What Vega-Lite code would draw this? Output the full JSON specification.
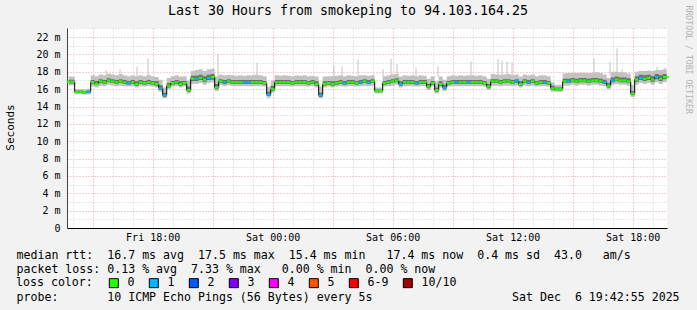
{
"$schema": "https://vega.github.io/schema/vega-lite/v6.json",
"width": 600, "height": 200,
"autosize": {"type": "none"},
"padding": {"left": 67, "top": 28, "right": 30, "bottom": 82},
"background": "#f2f2f2",
"config": {"view": {"fill": "white", "stroke": null}, "font": "DejaVu Sans Mono"},
"title": {"text": "Last 30 Hours from smokeping to 94.103.164.25", "font": "DejaVu Sans Mono", "fontSize": 13.3, "fontWeight": "normal", "color": "#000", "anchor": "middle", "dx": -19, "dy": 17, "offset": 5},
"datasets": {
"m": [
{"t":"2025-12-05T13:48","m":16.85,"a":16.4,"b":16.65,"c":17.1,"d":17.5,"l":"0"},
{"t":"2025-12-05T14:00","m":16.85,"a":16.45,"b":16.65,"c":17.1,"d":17.45,"l":"0"},
{"t":"2025-12-05T14:12","m":15.7,"a":15.4,"b":15.55,"c":15.85,"d":16.0,"l":"0"},
{"t":"2025-12-05T14:24","m":15.7,"a":15.45,"b":15.55,"c":15.85,"d":16.0,"l":"0"},
{"t":"2025-12-05T14:36","m":15.65,"a":15.4,"b":15.5,"c":15.8,"d":16.0,"l":"0"},
{"t":"2025-12-05T14:48","m":15.7,"a":15.4,"b":15.55,"c":15.85,"d":16.05,"l":"1"},
{"t":"2025-12-05T15:00","m":16.8,"a":16.3,"b":16.6,"c":17.05,"d":17.6,"l":"0"},
{"t":"2025-12-05T15:12","m":16.6,"a":16.2,"b":16.45,"c":16.95,"d":17.5,"l":"0"},
{"t":"2025-12-05T15:24","m":16.9,"a":16.4,"b":16.7,"c":17.15,"d":17.7,"l":"0"},
{"t":"2025-12-05T15:36","m":16.8,"a":16.35,"b":16.6,"c":17.05,"d":17.6,"l":"0"},
{"t":"2025-12-05T15:48","m":17.0,"a":16.5,"b":16.8,"c":17.25,"d":17.8,"l":"0"},
{"t":"2025-12-05T16:00","m":16.9,"a":16.4,"b":16.7,"c":17.15,"d":17.7,"l":"0"},
{"t":"2025-12-05T16:12","m":16.8,"a":16.35,"b":16.6,"c":17.05,"d":17.6,"l":"0"},
{"t":"2025-12-05T16:24","m":16.9,"a":16.4,"b":16.7,"c":17.15,"d":17.75,"l":"0"},
{"t":"2025-12-05T16:36","m":16.8,"a":16.35,"b":16.6,"c":17.05,"d":17.6,"l":"0"},
{"t":"2025-12-05T16:48","m":16.7,"a":16.3,"b":16.5,"c":16.95,"d":17.5,"l":"1"},
{"t":"2025-12-05T17:00","m":16.8,"a":16.35,"b":16.6,"c":17.05,"d":17.6,"l":"0"},
{"t":"2025-12-05T17:12","m":16.6,"a":16.2,"b":16.4,"c":16.9,"d":17.5,"l":"0"},
{"t":"2025-12-05T17:24","m":16.8,"a":16.35,"b":16.6,"c":17.05,"d":17.6,"l":"0"},
{"t":"2025-12-05T17:36","m":16.7,"a":16.3,"b":16.5,"c":16.95,"d":17.5,"l":"0"},
{"t":"2025-12-05T17:48","m":16.8,"a":16.35,"b":16.6,"c":17.05,"d":17.65,"l":"0"},
{"t":"2025-12-05T18:00","m":16.7,"a":16.3,"b":16.5,"c":16.95,"d":17.5,"l":"0"},
{"t":"2025-12-05T18:12","m":16.6,"a":16.2,"b":16.4,"c":16.9,"d":17.4,"l":"0"},
{"t":"2025-12-05T18:24","m":16.1,"a":15.7,"b":15.9,"c":16.45,"d":17.1,"l":"1"},
{"t":"2025-12-05T18:36","m":15.3,"a":14.95,"b":15.1,"c":15.6,"d":16.2,"l":"1"},
{"t":"2025-12-05T18:48","m":16.4,"a":16.0,"b":16.2,"c":16.7,"d":17.3,"l":"0"},
{"t":"2025-12-05T19:00","m":16.7,"a":16.3,"b":16.5,"c":16.95,"d":17.5,"l":"0"},
{"t":"2025-12-05T19:12","m":16.8,"a":16.35,"b":16.6,"c":17.05,"d":17.6,"l":"0"},
{"t":"2025-12-05T19:24","m":16.6,"a":16.2,"b":16.4,"c":16.9,"d":17.45,"l":"0"},
{"t":"2025-12-05T19:36","m":16.7,"a":16.3,"b":16.5,"c":16.95,"d":17.5,"l":"0"},
{"t":"2025-12-05T19:48","m":15.9,"a":15.5,"b":15.7,"c":16.3,"d":17.0,"l":"0"},
{"t":"2025-12-05T20:00","m":17.2,"a":16.6,"b":16.95,"c":17.55,"d":18.1,"l":"0"},
{"t":"2025-12-05T20:12","m":17.2,"a":16.6,"b":16.95,"c":17.55,"d":18.2,"l":"1"},
{"t":"2025-12-05T20:24","m":17.3,"a":16.7,"b":17.05,"c":17.65,"d":18.3,"l":"0"},
{"t":"2025-12-05T20:36","m":17.1,"a":16.5,"b":16.85,"c":17.5,"d":18.1,"l":"0"},
{"t":"2025-12-05T20:48","m":17.3,"a":16.7,"b":17.05,"c":17.65,"d":18.3,"l":"1"},
{"t":"2025-12-05T21:00","m":17.4,"a":16.8,"b":17.1,"c":17.75,"d":18.35,"l":"0"},
{"t":"2025-12-05T21:12","m":16.2,"a":15.8,"b":16.0,"c":16.6,"d":17.5,"l":"0"},
{"t":"2025-12-05T21:24","m":16.9,"a":16.45,"b":16.7,"c":17.15,"d":17.7,"l":"0"},
{"t":"2025-12-05T21:36","m":16.8,"a":16.35,"b":16.6,"c":17.05,"d":17.6,"l":"1"},
{"t":"2025-12-05T21:48","m":16.9,"a":16.45,"b":16.7,"c":17.15,"d":17.65,"l":"0"},
{"t":"2025-12-05T22:00","m":16.8,"a":16.35,"b":16.6,"c":17.05,"d":17.6,"l":"0"},
{"t":"2025-12-05T22:12","m":16.8,"a":16.35,"b":16.6,"c":17.05,"d":17.55,"l":"0"},
{"t":"2025-12-05T22:24","m":16.8,"a":16.35,"b":16.6,"c":17.05,"d":17.6,"l":"0"},
{"t":"2025-12-05T22:36","m":16.8,"a":16.35,"b":16.6,"c":17.05,"d":17.55,"l":"1"},
{"t":"2025-12-05T22:48","m":16.8,"a":16.35,"b":16.6,"c":17.05,"d":17.6,"l":"1"},
{"t":"2025-12-05T23:00","m":16.8,"a":16.35,"b":16.6,"c":17.05,"d":17.6,"l":"0"},
{"t":"2025-12-05T23:12","m":16.8,"a":16.35,"b":16.6,"c":17.05,"d":17.65,"l":"0"},
{"t":"2025-12-05T23:24","m":16.8,"a":16.35,"b":16.6,"c":17.05,"d":17.6,"l":"0"},
{"t":"2025-12-05T23:36","m":16.7,"a":16.3,"b":16.5,"c":16.95,"d":17.5,"l":"0"},
{"t":"2025-12-05T23:48","m":15.4,"a":15.0,"b":15.2,"c":15.7,"d":16.3,"l":"1"},
{"t":"2025-12-06T00:00","m":16.0,"a":15.6,"b":15.8,"c":16.4,"d":17.0,"l":"0"},
{"t":"2025-12-06T00:12","m":16.8,"a":16.35,"b":16.6,"c":17.05,"d":17.6,"l":"0"},
{"t":"2025-12-06T00:24","m":16.8,"a":16.35,"b":16.6,"c":17.05,"d":17.55,"l":"0"},
{"t":"2025-12-06T00:36","m":16.8,"a":16.35,"b":16.6,"c":17.05,"d":17.6,"l":"0"},
{"t":"2025-12-06T00:48","m":16.8,"a":16.35,"b":16.6,"c":17.05,"d":17.55,"l":"0"},
{"t":"2025-12-06T01:00","m":16.7,"a":16.3,"b":16.5,"c":16.95,"d":17.5,"l":"0"},
{"t":"2025-12-06T01:12","m":16.8,"a":16.35,"b":16.6,"c":17.05,"d":17.6,"l":"0"},
{"t":"2025-12-06T01:24","m":16.8,"a":16.35,"b":16.6,"c":17.05,"d":17.55,"l":"0"},
{"t":"2025-12-06T01:36","m":16.8,"a":16.35,"b":16.6,"c":17.05,"d":17.6,"l":"0"},
{"t":"2025-12-06T01:48","m":16.7,"a":16.3,"b":16.5,"c":16.95,"d":17.5,"l":"0"},
{"t":"2025-12-06T02:00","m":16.8,"a":16.35,"b":16.6,"c":17.05,"d":17.55,"l":"0"},
{"t":"2025-12-06T02:12","m":16.6,"a":16.2,"b":16.4,"c":16.9,"d":17.45,"l":"0"},
{"t":"2025-12-06T02:24","m":15.3,"a":14.95,"b":15.1,"c":15.6,"d":16.3,"l":"1"},
{"t":"2025-12-06T02:36","m":16.6,"a":16.2,"b":16.4,"c":16.9,"d":17.45,"l":"0"},
{"t":"2025-12-06T02:48","m":16.7,"a":16.3,"b":16.5,"c":16.95,"d":17.5,"l":"0"},
{"t":"2025-12-06T03:00","m":16.6,"a":16.2,"b":16.4,"c":16.9,"d":17.5,"l":"0"},
{"t":"2025-12-06T03:12","m":16.7,"a":16.3,"b":16.5,"c":16.95,"d":17.55,"l":"0"},
{"t":"2025-12-06T03:24","m":16.8,"a":16.35,"b":16.6,"c":17.05,"d":17.6,"l":"0"},
{"t":"2025-12-06T03:36","m":16.7,"a":16.3,"b":16.5,"c":16.95,"d":17.5,"l":"1"},
{"t":"2025-12-06T03:48","m":16.8,"a":16.35,"b":16.6,"c":17.05,"d":17.6,"l":"0"},
{"t":"2025-12-06T04:00","m":16.8,"a":16.35,"b":16.6,"c":17.05,"d":17.55,"l":"0"},
{"t":"2025-12-06T04:12","m":16.7,"a":16.3,"b":16.5,"c":16.95,"d":17.5,"l":"0"},
{"t":"2025-12-06T04:24","m":16.8,"a":16.35,"b":16.6,"c":17.05,"d":17.6,"l":"1"},
{"t":"2025-12-06T04:36","m":16.9,"a":16.4,"b":16.7,"c":17.15,"d":17.6,"l":"0"},
{"t":"2025-12-06T04:48","m":16.8,"a":16.35,"b":16.6,"c":17.05,"d":17.55,"l":"1"},
{"t":"2025-12-06T05:00","m":16.9,"a":16.4,"b":16.7,"c":17.15,"d":17.6,"l":"0"},
{"t":"2025-12-06T05:12","m":15.8,"a":15.5,"b":15.65,"c":15.95,"d":16.2,"l":"0"},
{"t":"2025-12-06T05:24","m":15.8,"a":15.5,"b":15.65,"c":15.95,"d":16.2,"l":"0"},
{"t":"2025-12-06T05:36","m":16.7,"a":16.3,"b":16.5,"c":16.95,"d":17.5,"l":"0"},
{"t":"2025-12-06T05:48","m":16.8,"a":16.35,"b":16.6,"c":17.05,"d":17.6,"l":"0"},
{"t":"2025-12-06T06:00","m":16.9,"a":16.4,"b":16.7,"c":17.15,"d":17.7,"l":"0"},
{"t":"2025-12-06T06:12","m":17.0,"a":16.5,"b":16.8,"c":17.25,"d":17.75,"l":"0"},
{"t":"2025-12-06T06:24","m":16.6,"a":16.2,"b":16.4,"c":16.9,"d":17.45,"l":"1"},
{"t":"2025-12-06T06:36","m":16.8,"a":16.35,"b":16.6,"c":17.05,"d":17.6,"l":"0"},
{"t":"2025-12-06T06:48","m":16.8,"a":16.35,"b":16.6,"c":17.05,"d":17.55,"l":"0"},
{"t":"2025-12-06T07:00","m":16.8,"a":16.35,"b":16.6,"c":17.05,"d":17.6,"l":"0"},
{"t":"2025-12-06T07:12","m":16.7,"a":16.3,"b":16.5,"c":16.95,"d":17.5,"l":"1"},
{"t":"2025-12-06T07:24","m":16.8,"a":16.35,"b":16.6,"c":17.05,"d":17.6,"l":"0"},
{"t":"2025-12-06T07:36","m":16.8,"a":16.35,"b":16.6,"c":17.05,"d":17.55,"l":"0"},
{"t":"2025-12-06T07:48","m":16.3,"a":15.9,"b":16.1,"c":16.6,"d":17.2,"l":"0"},
{"t":"2025-12-06T08:00","m":16.7,"a":16.3,"b":16.5,"c":16.95,"d":17.5,"l":"0"},
{"t":"2025-12-06T08:12","m":15.9,"a":15.5,"b":15.7,"c":16.2,"d":16.9,"l":"0"},
{"t":"2025-12-06T08:24","m":16.6,"a":16.2,"b":16.4,"c":16.9,"d":17.45,"l":"0"},
{"t":"2025-12-06T08:36","m":16.2,"a":15.8,"b":16.0,"c":16.5,"d":17.1,"l":"1"},
{"t":"2025-12-06T08:48","m":16.7,"a":16.3,"b":16.5,"c":16.95,"d":17.5,"l":"0"},
{"t":"2025-12-06T09:00","m":16.8,"a":16.35,"b":16.6,"c":17.05,"d":17.6,"l":"0"},
{"t":"2025-12-06T09:12","m":16.8,"a":16.35,"b":16.6,"c":17.05,"d":17.55,"l":"1"},
{"t":"2025-12-06T09:24","m":16.8,"a":16.35,"b":16.6,"c":17.05,"d":17.6,"l":"0"},
{"t":"2025-12-06T09:36","m":16.8,"a":16.35,"b":16.6,"c":17.05,"d":17.55,"l":"0"},
{"t":"2025-12-06T09:48","m":16.8,"a":16.35,"b":16.6,"c":17.05,"d":17.6,"l":"1"},
{"t":"2025-12-06T10:00","m":16.8,"a":16.35,"b":16.6,"c":17.05,"d":17.6,"l":"0"},
{"t":"2025-12-06T10:12","m":16.8,"a":16.35,"b":16.6,"c":17.05,"d":17.55,"l":"0"},
{"t":"2025-12-06T10:24","m":16.8,"a":16.35,"b":16.6,"c":17.05,"d":17.6,"l":"0"},
{"t":"2025-12-06T10:36","m":16.7,"a":16.3,"b":16.5,"c":16.95,"d":17.5,"l":"0"},
{"t":"2025-12-06T10:48","m":16.3,"a":15.9,"b":16.1,"c":16.6,"d":17.2,"l":"0"},
{"t":"2025-12-06T11:00","m":16.9,"a":16.4,"b":16.7,"c":17.15,"d":17.75,"l":"0"},
{"t":"2025-12-06T11:12","m":16.9,"a":16.4,"b":16.7,"c":17.15,"d":17.7,"l":"0"},
{"t":"2025-12-06T11:24","m":16.8,"a":16.35,"b":16.6,"c":17.05,"d":17.65,"l":"0"},
{"t":"2025-12-06T11:36","m":16.9,"a":16.4,"b":16.7,"c":17.15,"d":17.7,"l":"0"},
{"t":"2025-12-06T11:48","m":16.9,"a":16.4,"b":16.7,"c":17.15,"d":17.75,"l":"0"},
{"t":"2025-12-06T12:00","m":16.8,"a":16.35,"b":16.6,"c":17.05,"d":17.6,"l":"0"},
{"t":"2025-12-06T12:12","m":16.9,"a":16.4,"b":16.7,"c":17.15,"d":17.7,"l":"1"},
{"t":"2025-12-06T12:24","m":16.6,"a":16.2,"b":16.4,"c":16.9,"d":17.45,"l":"0"},
{"t":"2025-12-06T12:36","m":16.9,"a":16.4,"b":16.7,"c":17.15,"d":17.7,"l":"0"},
{"t":"2025-12-06T12:48","m":16.8,"a":16.35,"b":16.6,"c":17.05,"d":17.6,"l":"1"},
{"t":"2025-12-06T13:00","m":16.9,"a":16.4,"b":16.7,"c":17.15,"d":17.7,"l":"0"},
{"t":"2025-12-06T13:12","m":16.7,"a":16.3,"b":16.5,"c":16.95,"d":17.5,"l":"0"},
{"t":"2025-12-06T13:24","m":16.8,"a":16.35,"b":16.6,"c":17.05,"d":17.6,"l":"0"},
{"t":"2025-12-06T13:36","m":16.8,"a":16.35,"b":16.6,"c":17.05,"d":17.6,"l":"1"},
{"t":"2025-12-06T13:48","m":16.7,"a":16.3,"b":16.5,"c":16.95,"d":17.5,"l":"0"},
{"t":"2025-12-06T14:00","m":16.1,"a":15.7,"b":15.9,"c":16.4,"d":16.8,"l":"0"},
{"t":"2025-12-06T14:12","m":16.0,"a":15.7,"b":15.85,"c":16.2,"d":16.5,"l":"0"},
{"t":"2025-12-06T14:24","m":16.0,"a":15.7,"b":15.85,"c":16.2,"d":16.5,"l":"0"},
{"t":"2025-12-06T14:36","m":16.9,"a":16.4,"b":16.7,"c":17.2,"d":17.8,"l":"0"},
{"t":"2025-12-06T14:48","m":16.9,"a":16.4,"b":16.7,"c":17.2,"d":17.85,"l":"1"},
{"t":"2025-12-06T15:00","m":17.0,"a":16.5,"b":16.8,"c":17.3,"d":17.9,"l":"0"},
{"t":"2025-12-06T15:12","m":16.9,"a":16.4,"b":16.7,"c":17.2,"d":17.85,"l":"0"},
{"t":"2025-12-06T15:24","m":17.0,"a":16.5,"b":16.8,"c":17.3,"d":17.9,"l":"0"},
{"t":"2025-12-06T15:36","m":17.0,"a":16.5,"b":16.8,"c":17.3,"d":17.9,"l":"0"},
{"t":"2025-12-06T15:48","m":16.9,"a":16.4,"b":16.7,"c":17.2,"d":17.85,"l":"0"},
{"t":"2025-12-06T16:00","m":17.0,"a":16.5,"b":16.8,"c":17.3,"d":17.9,"l":"0"},
{"t":"2025-12-06T16:12","m":17.0,"a":16.5,"b":16.8,"c":17.3,"d":17.95,"l":"0"},
{"t":"2025-12-06T16:24","m":16.9,"a":16.4,"b":16.7,"c":17.2,"d":17.85,"l":"0"},
{"t":"2025-12-06T16:36","m":16.8,"a":16.35,"b":16.6,"c":17.1,"d":17.7,"l":"1"},
{"t":"2025-12-06T16:48","m":16.4,"a":16.0,"b":16.2,"c":16.7,"d":17.3,"l":"0"},
{"t":"2025-12-06T17:00","m":17.0,"a":16.5,"b":16.8,"c":17.35,"d":18.0,"l":"1"},
{"t":"2025-12-06T17:12","m":17.1,"a":16.6,"b":16.9,"c":17.45,"d":18.0,"l":"0"},
{"t":"2025-12-06T17:24","m":17.0,"a":16.5,"b":16.8,"c":17.35,"d":17.95,"l":"0"},
{"t":"2025-12-06T17:36","m":17.0,"a":16.5,"b":16.8,"c":17.35,"d":17.95,"l":"0"},
{"t":"2025-12-06T17:48","m":16.9,"a":16.4,"b":16.7,"c":17.25,"d":17.8,"l":"0"},
{"t":"2025-12-06T18:00","m":15.5,"a":15.1,"b":15.3,"c":15.8,"d":16.5,"l":"0"},
{"t":"2025-12-06T18:12","m":17.1,"a":16.5,"b":16.85,"c":17.5,"d":18.0,"l":"0"},
{"t":"2025-12-06T18:24","m":17.3,"a":16.7,"b":17.05,"c":17.65,"d":18.1,"l":"1"},
{"t":"2025-12-06T18:36","m":17.2,"a":16.6,"b":16.95,"c":17.6,"d":18.1,"l":"0"},
{"t":"2025-12-06T18:48","m":17.3,"a":16.7,"b":17.05,"c":17.65,"d":18.15,"l":"0"},
{"t":"2025-12-06T19:00","m":17.1,"a":16.5,"b":16.85,"c":17.5,"d":18.1,"l":"0"},
{"t":"2025-12-06T19:12","m":17.4,"a":16.8,"b":17.15,"c":17.75,"d":18.2,"l":"1"},
{"t":"2025-12-06T19:24","m":17.2,"a":16.6,"b":16.95,"c":17.6,"d":18.2,"l":"0"},
{"t":"2025-12-06T19:36","m":17.4,"a":16.8,"b":17.15,"c":17.75,"d":18.3,"l":"0"},
{"t":"2025-12-06T19:42","m":17.4,"a":16.8,"b":17.15,"c":17.75,"d":18.3,"l":"0"}
],
"s": [
{"t":"2025-12-05T15:40","b":17.4,"top":18.2},
{"t":"2025-12-05T16:22","b":17.4,"top":18.3},
{"t":"2025-12-05T17:13","b":17.4,"top":18.6},
{"t":"2025-12-05T17:46","b":17.4,"top":19.55},
{"t":"2025-12-05T21:16","b":17.5,"top":20.0},
{"t":"2025-12-05T23:13","b":17.4,"top":19.0},
{"t":"2025-12-06T03:04","b":17.4,"top":18.7},
{"t":"2025-12-06T03:28","b":17.4,"top":18.6},
{"t":"2025-12-06T04:16","b":17.4,"top":19.4},
{"t":"2025-12-06T05:31","b":17.4,"top":18.3},
{"t":"2025-12-06T05:55","b":17.4,"top":19.5},
{"t":"2025-12-06T06:13","b":17.4,"top":18.9},
{"t":"2025-12-06T07:10","b":17.4,"top":18.5},
{"t":"2025-12-06T08:16","b":17.4,"top":18.6},
{"t":"2025-12-06T09:55","b":17.4,"top":19.2},
{"t":"2025-12-06T11:16","b":17.5,"top":19.5},
{"t":"2025-12-06T11:28","b":17.5,"top":19.3},
{"t":"2025-12-06T11:43","b":17.5,"top":19.2},
{"t":"2025-12-06T11:58","b":17.5,"top":19.1},
{"t":"2025-12-06T16:04","b":17.6,"top":19.5},
{"t":"2025-12-06T16:52","b":17.6,"top":19.2},
{"t":"2025-12-06T17:13","b":17.6,"top":20.7},
{"t":"2025-12-06T17:28","b":17.6,"top":18.3},
{"t":"2025-12-06T19:13","b":17.8,"top":18.6},
{"t":"2025-12-06T19:37","b":17.8,"top":18.5}
]
},
"data": {"name": "m"},
"encoding": {
"x": {"field": "t", "type": "temporal",
 "scale": {"domain": [{"year":2025,"month":12,"date":5,"hours":13,"minutes":42,"seconds":55},{"year":2025,"month":12,"date":6,"hours":19,"minutes":42,"seconds":55}]},
 "axis": {"values": [
   {"year":2025,"month":12,"date":5,"hours":14},{"year":2025,"month":12,"date":5,"hours":15},{"year":2025,"month":12,"date":5,"hours":16},{"year":2025,"month":12,"date":5,"hours":17},{"year":2025,"month":12,"date":5,"hours":18},{"year":2025,"month":12,"date":5,"hours":19},{"year":2025,"month":12,"date":5,"hours":20},{"year":2025,"month":12,"date":5,"hours":21},{"year":2025,"month":12,"date":5,"hours":22},{"year":2025,"month":12,"date":5,"hours":23},
   {"year":2025,"month":12,"date":6,"hours":0},{"year":2025,"month":12,"date":6,"hours":1},{"year":2025,"month":12,"date":6,"hours":2},{"year":2025,"month":12,"date":6,"hours":3},{"year":2025,"month":12,"date":6,"hours":4},{"year":2025,"month":12,"date":6,"hours":5},{"year":2025,"month":12,"date":6,"hours":6},{"year":2025,"month":12,"date":6,"hours":7},{"year":2025,"month":12,"date":6,"hours":8},{"year":2025,"month":12,"date":6,"hours":9},{"year":2025,"month":12,"date":6,"hours":10},{"year":2025,"month":12,"date":6,"hours":11},{"year":2025,"month":12,"date":6,"hours":12},{"year":2025,"month":12,"date":6,"hours":13},{"year":2025,"month":12,"date":6,"hours":14},{"year":2025,"month":12,"date":6,"hours":15},{"year":2025,"month":12,"date":6,"hours":16},{"year":2025,"month":12,"date":6,"hours":17},{"year":2025,"month":12,"date":6,"hours":18},{"year":2025,"month":12,"date":6,"hours":19}],
  "labelExpr": "hours(datum.value) % 6 == 0 ? timeFormat(datum.value, '%a %H:%M') : ''",
  "labelFont": "DejaVu Sans Mono", "labelFontSize": 10, "labelColor": "#000", "labelPadding": 4,
  "labelOverlap": false, "labelFlush": false, "labelBound": false,
  "ticks": false, "tickSize": 0, "domainColor": "#000", "domainWidth": 1,
  "gridColor": {"condition": {"test": "hours(datum.value) % 3 == 0", "value": "#eba0a0"}, "value": "#cfcfcf"},
  "gridDash": [1, 2], "gridOpacity": 1,
  "title": ["median rtt:\u00a0\u00a016.7 ms avg\u00a0\u00a017.5 ms max\u00a0\u00a015.4 ms min\u00a0\u00a0\u00a017.4 ms now\u00a0\u00a00.4 ms sd\u00a0\u00a043.0\u00a0\u00a0\u00a0am/s",
            "packet loss:\u00a00.13 % avg\u00a0\u00a07.33 % max\u00a0\u00a0\u00a00.00 % min\u00a0\u00a00.00 % now",
            "\u200b",
            "probe:\u00a0\u00a0\u00a0\u00a0\u00a0\u00a0\u00a010 ICMP Echo Pings (56 Bytes) every 5s\u00a0\u00a0\u00a0\u00a0\u00a0\u00a0\u00a0\u00a0\u00a0\u00a0\u00a0\u00a0\u00a0\u00a0\u00a0\u00a0\u00a0\u00a0\u00a0\u00a0Sat Dec\u00a0\u00a06 19:42:55 2025"],
  "titleX": -51, "titleY": 30, "titleAlign": "left", "titleAnchor": "start", "titleBaseline": "alphabetic",
  "titleFont": "DejaVu Sans Mono", "titleFontSize": 11.6, "titleFontWeight": "normal", "titleColor": "#000", "titleLineHeight": 14}}
},
"layer": [
 {"mark": {"type": "area", "interpolate": "step", "color": "#c2c2c2"},
  "encoding": {"y": {"field": "a", "type": "quantitative", "scale": {"domain": [0, 23.05], "nice": false, "zero": false},
    "axis": {"orient": "left", "values": [0,1,2,3,4,5,6,7,8,9,10,11,12,13,14,15,16,17,18,19,20,21,22,23],
     "labelExpr": "datum.value % 2 == 0 ? (datum.value == 0 ? '0' : datum.value + ' m') : ''",
     "labelFont": "DejaVu Sans Mono", "labelFontSize": 10, "labelColor": "#000", "labelPadding": 7,
     "ticks": false, "tickSize": 0, "domainColor": "#404040",
     "gridColor": {"condition": {"test": "datum.value % 2 == 0", "value": "#eba0a0"}, "value": "#cfcfcf"},
     "gridDash": [1, 2], "gridOpacity": 1,
     "title": "Seconds", "titleFont": "DejaVu Sans Mono", "titleFontSize": 11, "titleFontWeight": "normal", "titleColor": "#000",
     "titleAngle": -90, "titleX": -57, "titleY": 99, "titleAlign": "center", "titleBaseline": "middle"}},
   "y2": {"field": "d"}}},
 {"mark": {"type": "area", "interpolate": "step", "color": "#6e6e6e"},
  "encoding": {"y": {"field": "b", "type": "quantitative", "axis": null}, "y2": {"field": "c"}}},
 {"data": {"name": "s"},
  "mark": {"type": "rule", "color": "#c4c4c4", "strokeWidth": 1},
  "encoding": {"y": {"field": "b", "type": "quantitative",
    "axis": {"orient": "right", "labels": false, "ticks": false, "domain": false, "grid": false,
     "title": "RRDTOOL / TOBI OETIKER", "titleAngle": 90, "titleX": 20, "titleY": -23, "titleAlign": "left", "titleBaseline": "middle",
     "titleColor": "#b4b4b4", "titleFont": "DejaVu Sans Mono", "titleFontSize": 8.2, "titleFontWeight": "normal"}},
   "y2": {"field": "top"}}},
 {"mark": {"type": "line", "interpolate": "step", "color": "#000", "strokeWidth": 1},
  "encoding": {"y": {"field": "m", "type": "quantitative", "axis": null}}},
 {"mark": {"type": "tick", "orient": "horizontal", "size": 4, "thickness": 2.2, "opacity": 1},
  "encoding": {"y": {"field": "m", "type": "quantitative", "axis": null},
   "color": {"field": "l", "type": "nominal",
    "scale": {"domain": ["0","1","2","3","4","5","6-9","10/10"], "range": ["#26ff00","#00b8ff","#0059ff","#7e00ff","#ff00ff","#ff5500","#ff0000","#a10000"]},
    "legend": {"orient": "none", "legendX": -51, "legendY": 249, "direction": "horizontal", "padding": 0,
     "title": "loss color:", "titleOrient": "left", "titleFont": "DejaVu Sans Mono", "titleFontSize": 11.6, "titleFontWeight": "normal", "titleColor": "#000", "titlePadding": 15,
     "labelFont": "DejaVu Sans Mono", "labelFontSize": 11.6, "labelColor": "#000", "labelOffset": 8, "columnPadding": 12,
     "symbolType": "square", "symbolSize": 81, "symbolStrokeColor": "#000", "symbolStrokeWidth": 1, "symbolOpacity": 1}}}}
],
"resolve": {"axis": {"y": "independent"}}
}
